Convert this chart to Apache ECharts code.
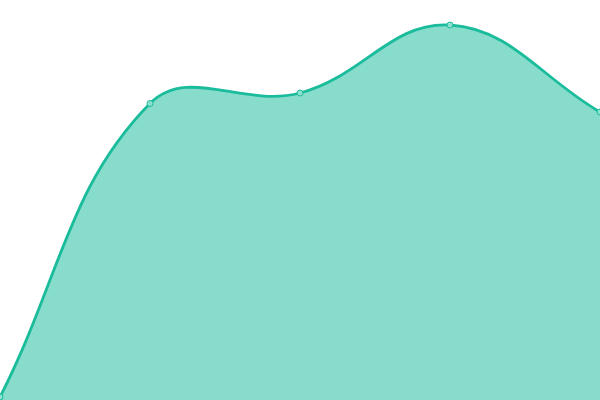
<!DOCTYPE html>
<html>
<head>
<meta charset="utf-8">
<script src="https://cdn.jsdelivr.net/npm/echarts@6/dist/echarts.min.js"></script>
<style>
  html, body { margin: 0; padding: 0; background: #fff; }
  #chart { width: 600px; height: 400px; }
</style>
</head>
<body>
<div id="chart"></div>
<script>
// values, y axis runs 0..400
var categories = ['A', 'B', 'C', 'D', 'E'];
var values = [3, 296.5, 307, 375, 288];

var lineColor = '#1abc9c';
var tension = 0.4;

// cardinal-style spline, endpoints aim straight at their neighbour
function splinePath(pts) {
    function dist(a, b) {
        return Math.sqrt((a[0] - b[0]) * (a[0] - b[0]) + (a[1] - b[1]) * (a[1] - b[1]));
    }
    var cps = pts.map(function (p, i) {
        var prev = pts[i - 1] || p, next = pts[i + 1] || p;
        var d01 = dist(prev, p), d12 = dist(p, next);
        var s01 = d01 / (d01 + d12) || 0, s12 = d12 / (d01 + d12) || 0;
        var vx = next[0] - prev[0], vy = next[1] - prev[1];
        return {
            prev: [p[0] - tension * s01 * vx, p[1] - tension * s01 * vy],
            next: [p[0] + tension * s12 * vx, p[1] + tension * s12 * vy]
        };
    });
    var d = 'M' + pts[0][0] + ' ' + pts[0][1];
    for (var i = 1; i < pts.length; i++) {
        var a = cps[i - 1].next, b = cps[i].prev, p = pts[i];
        d += ' C' + a[0] + ' ' + a[1] + ' ' + b[0] + ' ' + b[1] + ' ' + p[0] + ' ' + p[1];
    }
    return d;
}

function renderCurve(params, api) {
    if (params.dataIndex !== 0) return;
    var pts = values.map(function (v, i) { return api.coord([i, v]); });
    var base = api.coord([0, 0])[1];
    var line = splinePath(pts);
    var last = pts[pts.length - 1];
    var area = line + ' L' + last[0] + ' ' + base + ' L' + pts[0][0] + ' ' + base + ' Z';
    return {
        type: 'group',
        children: [{
            type: 'path',
            shape: { pathData: area },
            style: { fill: lineColor, opacity: 0.52 }
        }, {
            type: 'path',
            shape: { pathData: line },
            style: { fill: null, stroke: lineColor, lineWidth: 2.8 }
        }]
    };
}

echarts.init(document.querySelector('#chart')).setOption({
    animation: false,
    grid: { left: 0, right: 0, top: 0, bottom: 0 },
    xAxis: {
        type: 'category',
        boundaryGap: false,
        data: categories,
        show: false
    },
    yAxis: {
        type: 'value',
        min: 0,
        max: 400,
        show: false
    },
    series: [{
        type: 'custom',
        renderItem: renderCurve,
        data: values.map(function (v, i) { return [i, v]; }),
        z: 1
    }, {
        type: 'line',
        data: values,
        symbol: 'circle',
        symbolSize: 6,
        lineStyle: { opacity: 0 },
        itemStyle: { color: '#8ee0d0', borderColor: lineColor, borderWidth: 1 },
        z: 3
    }]
});
</script>
</body>
</html>
